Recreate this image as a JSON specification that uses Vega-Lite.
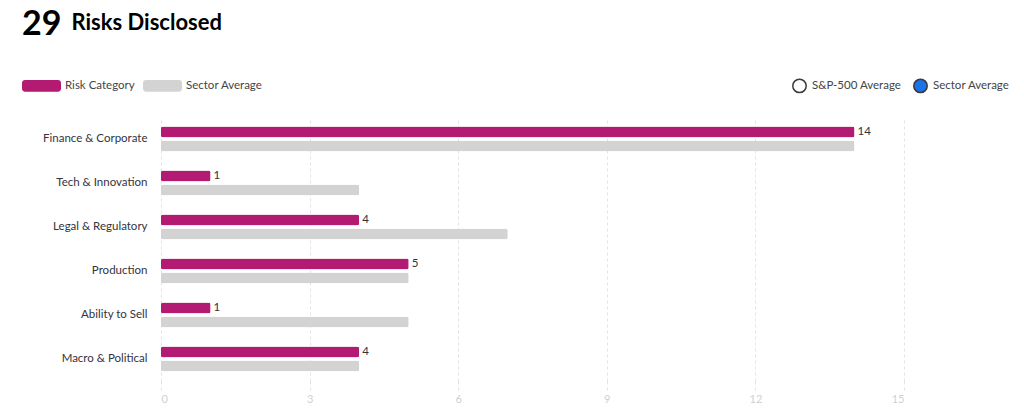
{
  "$schema": "https://vega.github.io/schema/vega-lite/v6.json",
  "width": 743,
  "height": 264,
  "autosize": {"type": "none"},
  "padding": {"left": 161, "top": 117, "right": 120, "bottom": 37},
  "background": "white",
  "config": {
    "font": "Lato",
    "view": {"stroke": null}
  },
  "title": {
    "text": "29",
    "anchor": "start",
    "frame": "group",
    "dx": -139,
    "offset": -31,
    "fontSize": 34,
    "fontWeight": "bold",
    "color": "#000000",
    "font": "Lato"
  },
  "data": {
    "values": [
      {"category": "Finance & Corporate", "series": "Risk Category", "value": 14},
      {"category": "Finance & Corporate", "series": "Sector Average", "value": 14},
      {"category": "Tech & Innovation", "series": "Risk Category", "value": 1},
      {"category": "Tech & Innovation", "series": "Sector Average", "value": 4},
      {"category": "Legal & Regulatory", "series": "Risk Category", "value": 4},
      {"category": "Legal & Regulatory", "series": "Sector Average", "value": 7},
      {"category": "Production", "series": "Risk Category", "value": 5},
      {"category": "Production", "series": "Sector Average", "value": 5},
      {"category": "Ability to Sell", "series": "Risk Category", "value": 1},
      {"category": "Ability to Sell", "series": "Sector Average", "value": 5},
      {"category": "Macro & Political", "series": "Risk Category", "value": 4},
      {"category": "Macro & Political", "series": "Sector Average", "value": 4}
    ]
  },
  "encoding": {
    "y": {
      "field": "category",
      "type": "nominal",
      "sort": null,
      "scale": {"paddingInner": 0.432, "paddingOuter": 0.216},
      "axis": {
        "title": "Risks Disclosed",
        "titleAngle": 0,
        "titleX": -90,
        "titleY": -95,
        "titleAlign": "left",
        "titleBaseline": "middle",
        "titleFontSize": 22,
        "titleFontWeight": "bold",
        "titleColor": "#000000",
        "titleFont": "Lato",
        "ticks": false,
        "domain": false,
        "labelPadding": 14,
        "labelFontSize": 11.5,
        "labelColor": "#333340",
        "labelFont": "Lato"
      }
    },
    "x": {
      "field": "value",
      "type": "quantitative",
      "scale": {"domain": [0, 15], "nice": false},
      "axis": {
        "title": null,
        "values": [0, 3, 6, 9, 12, 15],
        "domain": false,
        "grid": true,
        "gridDash": [3, 3],
        "gridColor": "#e3e3e3",
        "tickDash": [3, 3],
        "tickColor": "#e3e3e3",
        "tickSize": 9,
        "labelPadding": 3,
        "labelFontSize": 11,
        "labelColor": "#d0d0d0",
        "labelFont": "Lato"
      }
    }
  },
  "layer": [
    {
      "mark": {"type": "bar", "cornerRadius": 2},
      "encoding": {
        "yOffset": {
          "field": "series",
          "type": "nominal",
          "sort": ["Risk Category", "Sector Average"],
          "scale": {"paddingInner": 0.214, "paddingOuter": 0}
        },
        "color": {
          "field": "series",
          "type": "nominal",
          "scale": {"domain": ["Risk Category", "Sector Average"], "range": ["#b31a72", "#d3d3d3"]},
          "legend": {
            "title": null,
            "orient": "none",
            "legendX": -139,
            "legendY": -51,
            "direction": "horizontal",
            "symbolType": "M-0.85,-0.3H0.85A0.15,0.15 0 0 1 1,-0.15V0.15A0.15,0.15 0 0 1 0.85,0.3H-0.85A0.15,0.15 0 0 1 -1,0.15V-0.15A0.15,0.15 0 0 1 -0.85,-0.3Z",
            "symbolSize": 1520,
            "symbolStrokeWidth": 0,
            "symbolOpacity": 1,
            "labelFontSize": 11.5,
            "labelColor": "#444444",
            "labelFont": "Lato",
            "labelOffset": 4,
            "columnPadding": 8
          }
        }
      }
    },
    {
      "transform": [{"filter": "datum.series === 'Risk Category'"}],
      "mark": {"type": "text", "align": "left", "baseline": "middle", "dx": 3, "dy": -7, "fontSize": 11.5, "color": "#333333", "font": "Lato"},
      "encoding": {
        "text": {"field": "value", "type": "quantitative"}
      }
    },
    {
      "transform": [{"filter": "datum.value < 0"}],
      "mark": {"type": "point", "filled": true, "opacity": 0},
      "encoding": {
        "color": {
          "field": "legendB",
          "type": "nominal",
          "scale": {"domain": ["S&P-500 Average", "Sector Average"], "range": ["#ffffff", "#1a73e8"]},
          "legend": {
            "title": null,
            "orient": "none",
            "legendX": 631,
            "legendY": -39,
            "direction": "horizontal",
            "symbolType": "circle",
            "symbolSize": 180,
            "symbolStrokeWidth": 1.5,
            "symbolStrokeColor": "#3a3a3a",
            "symbolOpacity": 1,
            "labelFontSize": 11.5,
            "labelColor": "#444444",
            "labelFont": "Lato",
            "labelOffset": 5,
            "columnPadding": 8
          }
        }
      }
    }
  ],
  "resolve": {"scale": {"color": "independent"}, "legend": {"color": "independent"}}
}
